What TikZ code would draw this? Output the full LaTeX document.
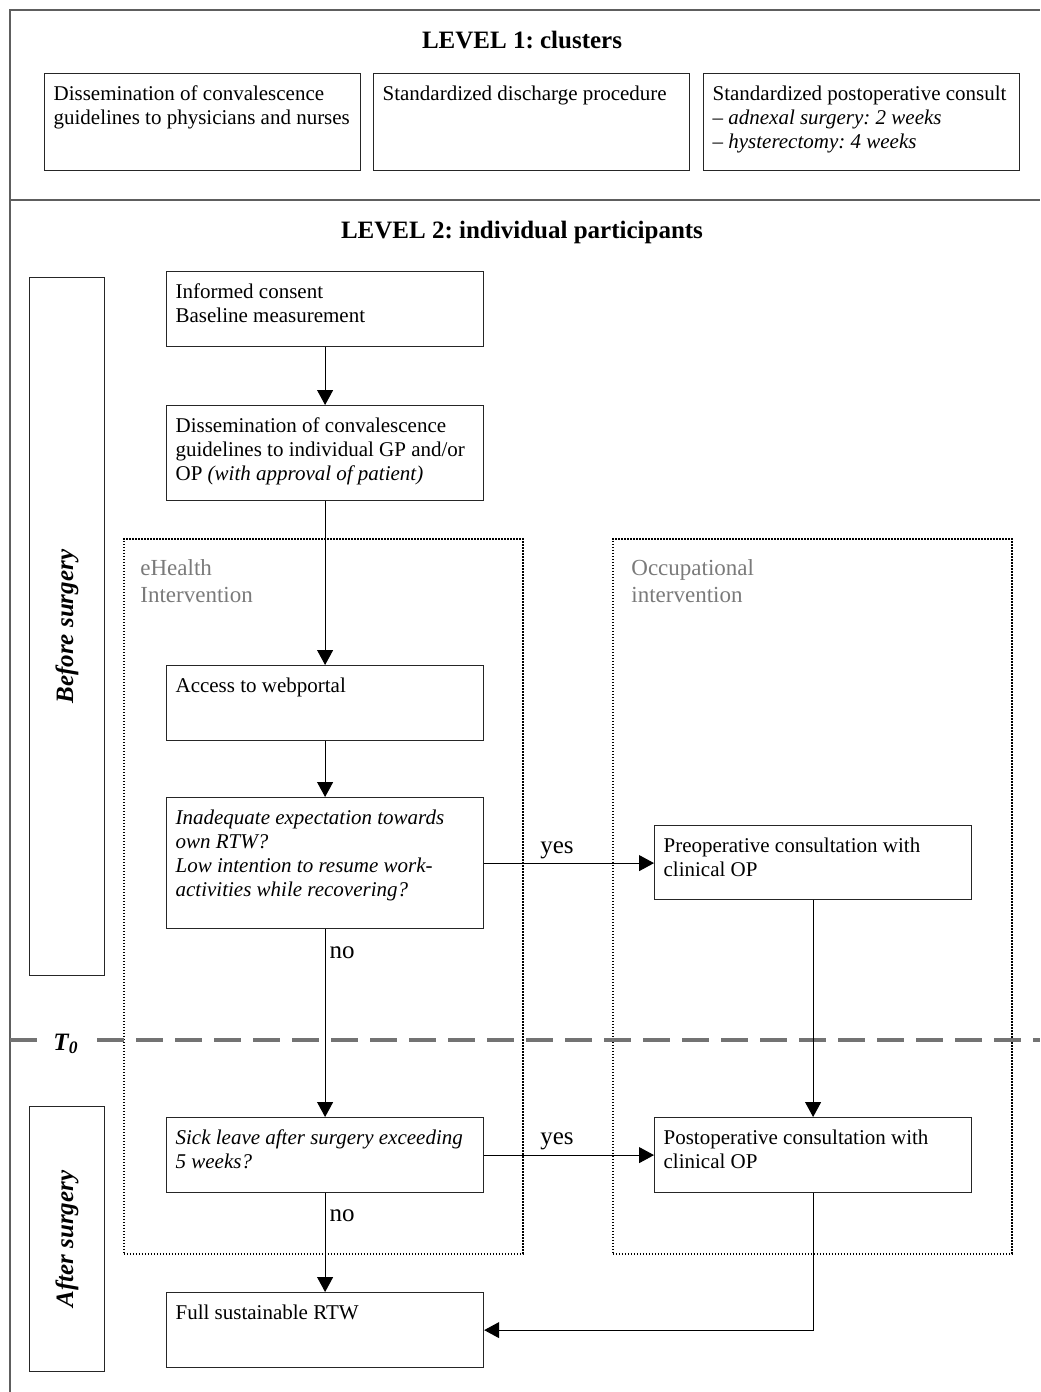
\documentclass[tikz,border=0pt]{standalone}
\usepackage{fontspec}
\setmainfont{Liberation Serif}
\usetikzlibrary{arrows.meta}
\newcommand{\bx}[3]{\parbox[c][#2][t]{#1}{\raggedright #3}}
\definecolor{framegray}{HTML}{5E5E5E}
\definecolor{labgray}{HTML}{7A7A7A}
\definecolor{dashgray}{HTML}{737373}
\frenchspacing
\begin{document}
\begin{tikzpicture}[x=0.5pt,y=-0.5pt,
  box/.style={draw=black!85, line width=0.6pt, inner xsep=4.5pt, inner ysep=6pt,
    anchor=north west, font=\fontsize{10.5}{12}\selectfont},
  dotbox/.style={draw=black, line width=0.85pt, dash pattern=on 0.8pt off 0.7pt,
    anchor=north west, inner sep=0pt},
  grouplab/.style={anchor=north west, inner sep=0pt, align=left, text=labgray,
    font=\fontsize{11.5}{13.5}\selectfont},
  title/.style={font=\fontsize{12.5}{15}\selectfont\bfseries, inner sep=0pt},
  phase/.style={draw=black!85, line width=0.6pt, anchor=north west, inner sep=0pt},
  phaselab/.style={rotate=90, font=\fontsize{12.5}{15}\selectfont\bfseries\itshape, inner sep=0pt},
  frame/.style={draw=framegray, line width=0.9pt},
  arr/.style={-{Triangle[length=7.5pt,width=8pt]}, line width=0.5pt, draw=black},
  lab/.style={font=\fontsize{12.5}{15}\selectfont, inner sep=0pt}]
\useasboundingbox (0,0) rectangle (1040,1392);

% outer frame
\draw[frame] (10,1392) -- (10,10) -- (1040,10);
\draw[frame] (10,200) -- (1040,200);

% level 1
\node[title] (lev1) at (522,40) {LEVEL 1: clusters};
\node[box] (c1) at (44,73) {\bx{149pt}{36.5pt}{Dissemination of convalescence\\guidelines to physicians and nurses}};
\node[box] (c2) at (373,73) {\bx{149pt}{36.5pt}{Standardized discharge procedure}};
\node[box] (c3) at (703,73) {\bx{149pt}{36.5pt}{Standardized postoperative consult\\– \textit{adnexal surgery: 2 weeks}\\– \textit{hysterectomy: 4 weeks}}};

% level 2
\node[title] (lev2) at (522,232) {LEVEL 2: individual participants};

% phases
\node[phase, minimum width=37.5pt, minimum height=349pt] (before) at (29,277) {};
\node[phaselab] (beforelab) at (before.center) {Before surgery};
\node[phase, minimum width=37.5pt, minimum height=132.5pt] (after) at (29,1106) {};
\node[phaselab] (afterlab) at (after.center) {After surgery};

% intervention groups
\node[dotbox, minimum width=199.5pt, minimum height=357.5pt] (ehealth) at (123,538) {};
\node[grouplab] (ehlab) at (140,559) {eHealth\\Intervention};
\node[dotbox, minimum width=199.5pt, minimum height=357.5pt] (occup) at (612,538) {};
\node[grouplab] (occlab) at (631,559) {Occupational\\intervention};

% T0 line
\draw[dashgray, line width=2.4pt, dash pattern=on 13.5pt off 6pt] (10,1040) -- (38,1040);
\draw[dashgray, line width=2.4pt, dash pattern=on 13.5pt off 6pt] (97,1040) -- (1040,1040);
\node[lab, font=\fontsize{12.5}{15}\selectfont\bfseries\itshape] (t0) at (66,1044) {T\textsubscript{0}};

% flow boxes
\node[box] (consent) at (166,271) {\bx{149.5pt}{25.5pt}{Informed consent\\Baseline measurement}};
\node[box] (dissem) at (166,405) {\bx{149.5pt}{35.5pt}{Dissemination of convalescence\\guidelines to individual GP and/or\\OP \textit{(with approval of patient)}}};
\node[box] (access) at (166,665) {\bx{149.5pt}{25.5pt}{Access to webportal}};
\node[box] (inadeq) at (166,797) {\bx{149.5pt}{53.5pt}{\itshape Inadequate expectation towards\\own RTW?\\Low intention to resume work-\\activities while recovering?}};
\node[box] (preop) at (654,825) {\bx{149.5pt}{25pt}{Preoperative consultation with\\clinical OP}};
\node[box] (sick) at (166,1117) {\bx{149.5pt}{25.5pt}{\itshape Sick leave after surgery exceeding\\5 weeks?}};
\node[box] (postop) at (654,1117) {\bx{149.5pt}{25.5pt}{Postoperative consultation with\\clinical OP}};
\node[box] (rtw) at (166,1292) {\bx{149.5pt}{25.5pt}{Full sustainable RTW}};

% connectors
\draw[arr] (consent) -- (dissem);
\draw[arr] (dissem.south) -- (dissem.south |- access.north);
\draw[arr] (access) -- (inadeq);
\draw[arr] (inadeq.east) -- (inadeq.east -| preop.west);
\node[lab] (yes1) at (557,850) {yes};
\draw[arr] (inadeq) -- (sick);
\node[lab] (no1) at (342,953) {no};
\draw[arr] (preop) -- (postop);
\draw[arr] (sick.east) -- (sick.east -| postop.west);
\node[lab] (yes2) at (557,1141) {yes};
\draw[arr] (sick) -- (rtw);
\node[lab] (no2) at (342,1216) {no};
\draw[arr] (postop.south) |- (rtw.east);
\end{tikzpicture}
\end{document}
